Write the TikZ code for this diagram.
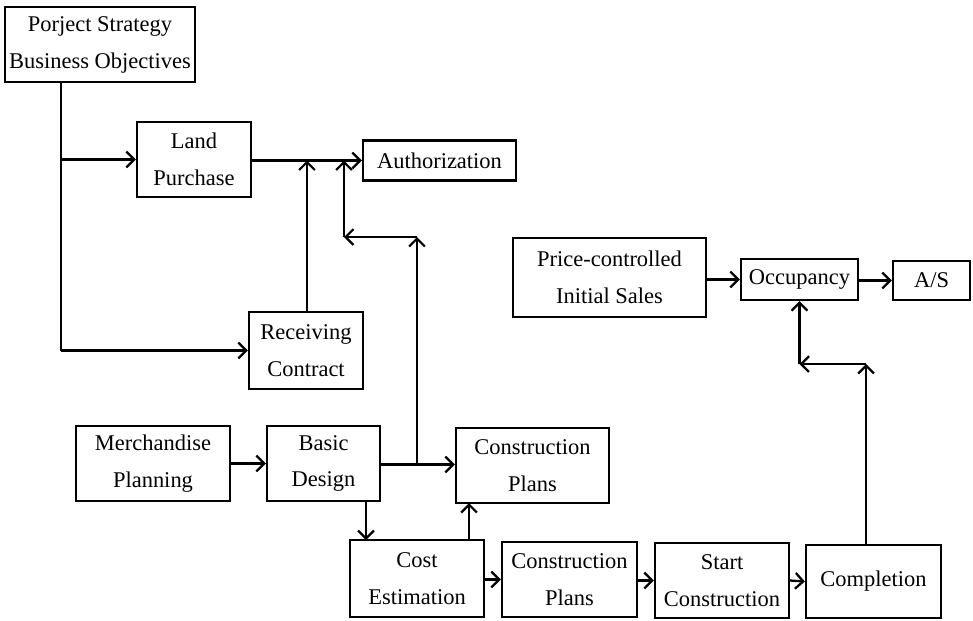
\documentclass[tikz,border=0pt]{standalone}
\usepackage{fontspec}
\setmainfont{Liberation Serif}
\usetikzlibrary{arrows.meta}

\tikzset{
  box/.style 2 args={draw, line width=1.3pt, inner sep=0pt, align=center,
    minimum width=#1*0.02cm, minimum height=#2*0.02cm,
    font=\fontsize{12.8}{21}\selectfont},
  flow/.style={line width=1.3pt, -{Straight Barb[length=4.5pt,width=9pt,line width=1.3pt]}},
  wire/.style={line width=1.3pt}
}

\begin{document}
\begin{tikzpicture}[x=0.02cm, y=-0.02cm]
  \useasboundingbox (0,0) rectangle (973,620);

  % boxes
  \node[box={190}{75}] (strat) at (100,44.5) {Porject Strategy\\Business Objectives};
  \node[box={114}{75}] (land)  at (194,159.5) {Land\\Purchase};
  \node[box={153}{40}] (auth)  at (439.5,160.5) {Authorization};
  \node[box={114}{77}] (recv)  at (306,350.5) {Receiving\\Contract};
  \node[box={154}{75}] (merch) at (153,463.5) {Merchandise\\Planning};
  \node[box={113}{75}] (basic) at (323.5,463.5) {Basic\\Design};
  \node[box={153}{75}] (plan1) at (532.5,465.5) {Construction\\Plans};
  \node[box={134}{77}] (cost)  at (417,578.5) {Cost\\Estimation};
  \node[box={135}{75}] (plan2) at (569.5,579.5) {Construction\\Plans};
  \node[box={134}{75}] (start) at (722,580.5) {Start\\Construction};
  \node[box={135}{73}] (compl) at (873.5,581.5) {Completion};
  \node[box={193}{79}] (price) at (609.5,277.5) {Price-controlled\\Initial Sales};
  \node[box={117}{41}] (occ)   at (799.5,279.5) {Occupancy};
  \node[box={77}{39}]  (as)    at (931.5,280.5) {A/S};

  % routing points
  \coordinate (s0) at (61,82);
  \coordinate (s1) at (61,159.5);
  \coordinate (s2) at (61,350.5);
  \coordinate (r0) at (307,312);
  \coordinate (r1) at (307,160.5);
  \coordinate (b0) at (417,464.5);
  \coordinate (b1) at (417,237);
  \coordinate (b2) at (344,237);
  \coordinate (b3) at (344,160.5);
  \coordinate (k0) at (366,501);
  \coordinate (k1) at (366,540);
  \coordinate (e0) at (469,540);
  \coordinate (e1) at (469,503);
  \coordinate (c0) at (866,545);
  \coordinate (c1) at (866,364);
  \coordinate (c2) at (799.5,364);

  % strategy feeds land purchase and contract
  \draw[wire] (s0) -- (s2);
  \draw[flow] (s1) -- (s1 -| land.west);
  \draw[flow] (s2) -- (s2 -| recv.west);

  % towards authorization
  \draw[flow] (land.east |- auth.west) -- (auth.west);
  \draw[flow] (r0) -- (r1);
  \draw[wire] (basic.east |- b0) -- (b0);
  \draw[flow] (b0) -- (b1);
  \draw[flow] (b1) -- (b2);
  \draw[flow] (b2) -- (b3);

  % design and planning
  \draw[flow] (merch.east) -- (basic.west);
  \draw[flow] (b0) -- (b0 -| plan1.west);
  \draw[flow] (k0) -- (k1);
  \draw[flow] (e0) -- (e1);

  % construction sequence
  \draw[flow] (cost.east |- plan2.west) -- (plan2.west);
  \draw[flow] (plan2.east |- start.west) -- (start.west);
  \draw[flow] (start.east) -- (compl.west);

  % completion to occupancy
  \draw[flow] (c0) -- (c1);
  \draw[flow] (c1) -- (c2);
  \draw[flow] (c2) -- (occ.south);

  % sales and after-service
  \draw[flow] (price.east |- occ.west) -- (occ.west);
  \draw[flow] (occ.east |- as.west) -- (as.west);
\end{tikzpicture}
\end{document}
